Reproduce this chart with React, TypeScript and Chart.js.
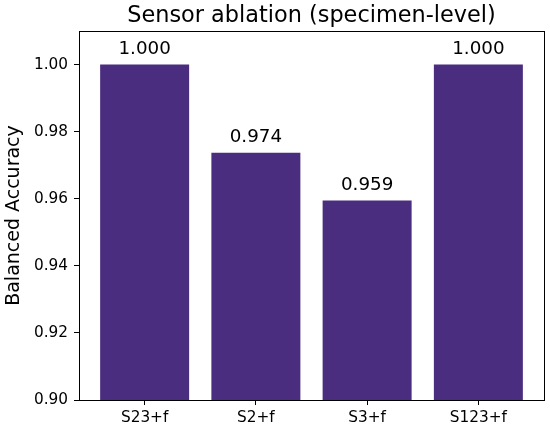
import React, { useEffect, useRef } from "react";
import { Chart, registerables } from "chart.js";

Chart.register(...registerables);

const categories = ["S23+f", "S2+f", "S3+f", "S123+f"];
const values = [1.0, 0.9737, 0.9595, 1.0];
const valueLabels = ["1.000", "0.974", "0.959", "1.000"];
const yTicks = [0.9, 0.92, 0.94, 0.96, 0.98, 1.0];
const titleText = "Sensor ablation (specimen-level)";
const barColor = "#4B2D80";
const FONT = "'DejaVu Sans', sans-serif";

const frameAndLabels = {
  id: "frameAndLabels",
  afterDatasetsDraw(chart: any) {
    const { ctx, chartArea } = chart;
    const meta = chart.getDatasetMeta(0);
    ctx.save();
    ctx.fillStyle = "#000";
    ctx.font = `18.3px ${FONT}`;
    ctx.textAlign = "center";
    ctx.textBaseline = "alphabetic";
    meta.data.forEach((bar: any, i: number) => {
      ctx.fillText(valueLabels[i], bar.x, bar.y - 10.5);
    });
    ctx.font = `22.4px ${FONT}`;
    ctx.fillText(titleText, (chartArea.left + chartArea.right) / 2, 22);
    ctx.strokeStyle = "#000";
    ctx.lineWidth = 1;
    ctx.strokeRect(
      Math.round(chartArea.left) + 0.5,
      Math.round(chartArea.top) + 0.5,
      Math.round(chartArea.right - chartArea.left),
      Math.round(chartArea.bottom - chartArea.top)
    );
    ctx.restore();
  },
};

export default function App() {
  const ref = useRef<HTMLCanvasElement>(null);
  useEffect(() => {
    document.body.style.margin = "0";
    const chart = new Chart(ref.current!, {
      type: "bar",
      data: {
        datasets: [
          {
            data: values.map((v, i) => ({ x: i, y: v })),
            backgroundColor: barColor,
            borderWidth: 0,
            categoryPercentage: 1,
            barPercentage: 0.8,
          },
        ],
      },
      options: {
        animation: false,
        responsive: false,
        devicePixelRatio: 1,
        layout: { padding: { left: 0, right: 6, top: 31, bottom: 0 } },
        plugins: {
          legend: { display: false },
          tooltip: { enabled: false },
          title: { display: false },
        },
        scales: {
          x: {
            type: "linear",
            offset: false,
            min: -0.59,
            max: 3.59,
            afterBuildTicks: (scale: any) => {
              scale.ticks = categories.map((_, i) => ({ value: i }));
            },
            afterFit: (scale: any) => {
              scale.height = 28;
            },
            ticks: {
              color: "#000",
              font: { family: FONT, size: 15.3 },
              padding: 4,
              maxRotation: 0,
              autoSkip: false,
              callback: (v: any) => categories[v] ?? "",
            },
            grid: {
              offset: false,
              drawOnChartArea: false,
              drawTicks: true,
              tickLength: 5,
              color: "#000",
            },
            border: { display: true, color: "#000" },
          },
          y: {
            type: "linear",
            min: 0.9,
            max: 1.01,
            afterBuildTicks: (scale: any) => {
              scale.ticks = yTicks.map((v) => ({ value: v }));
            },
            afterFit: (scale: any) => {
              scale.width = 79;
            },
            ticks: {
              color: "#000",
              font: { family: FONT, size: 15.3 },
              padding: 6,
              autoSkip: false,
              callback: (v: any) => Number(v).toFixed(2),
            },
            grid: {
              drawOnChartArea: false,
              drawTicks: true,
              tickLength: 5,
              color: "#000",
            },
            border: { display: true, color: "#000" },
            title: {
              display: true,
              text: "Balanced Accuracy",
              color: "#000",
              font: { family: FONT, size: 19 },
              padding: { top: 3, bottom: 0 },
            },
          },
        },
      },
      plugins: [frameAndLabels],
    });
    return () => chart.destroy();
  }, []);
  return <canvas ref={ref} width={550} height={428} style={{ display: "block" }} />;
}
